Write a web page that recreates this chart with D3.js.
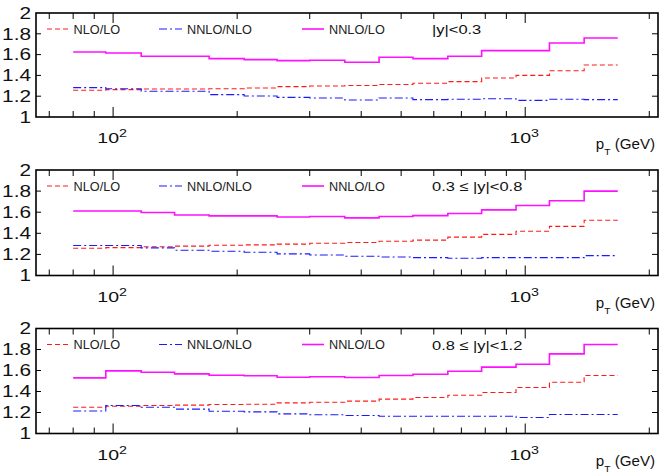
<!DOCTYPE html>
<html>
<head>
<meta charset="utf-8">
<script src="https://cdn.jsdelivr.net/npm/d3@7"></script>
<style>
  body { margin: 0; background: #fff; }
  svg { display: block; }
</style>
</head>
<body>
<div id="chart"></div>
<script>
// Step histograms of K-factors in three rapidity slices

// pT bin edges (GeV), shared by all panels
const binEdges = [80, 96, 117, 141, 171, 208, 250, 300, 365, 442, 534, 649, 784, 950, 1145, 1390, 1677];

const legendLabels = ['NLO/LO', 'NNLO/NLO', 'NNLO/LO'];
const regionLabels = ['|y|<0.3', '0.3 \u2264 |y|<0.8', '0.8 \u2264 |y|<1.2'];
const yTicks = [1, 1.2, 1.4, 1.6, 1.8, 2];
const yTickLabels = ['1', '1.2', '1.4', '1.6', '1.8', '2'];
const xLabelTicks = [100, 1000];
const xLabelExponents = ['2', '3'];

// |y| < 0.3
const nloLo1   = [1.257, 1.263, 1.269, 1.269, 1.272, 1.279, 1.292, 1.298, 1.303, 1.312, 1.325, 1.340, 1.375, 1.400, 1.445, 1.500];
const nnloNlo1 = [1.282, 1.272, 1.247, 1.247, 1.215, 1.202, 1.189, 1.183, 1.163, 1.183, 1.167, 1.170, 1.176, 1.160, 1.170, 1.167];
const nnloLo1  = [1.625, 1.615, 1.584, 1.584, 1.561, 1.552, 1.542, 1.545, 1.526, 1.574, 1.561, 1.584, 1.638, 1.638, 1.712, 1.760];

// 0.3 <= |y| < 0.8
const nloLo2   = [1.258, 1.264, 1.272, 1.278, 1.287, 1.290, 1.297, 1.306, 1.313, 1.325, 1.335, 1.364, 1.390, 1.420, 1.466, 1.523];
const nnloNlo2 = [1.284, 1.284, 1.262, 1.240, 1.230, 1.220, 1.205, 1.195, 1.182, 1.175, 1.169, 1.163, 1.169, 1.169, 1.169, 1.188];
const nnloLo2  = [1.612, 1.612, 1.597, 1.574, 1.565, 1.565, 1.555, 1.559, 1.546, 1.559, 1.568, 1.587, 1.622, 1.664, 1.708, 1.800];

// 0.8 <= |y| < 1.2
const nloLo3   = [1.250, 1.260, 1.267, 1.270, 1.276, 1.278, 1.292, 1.297, 1.308, 1.327, 1.343, 1.365, 1.390, 1.438, 1.488, 1.552];
const nnloNlo3 = [1.215, 1.267, 1.250, 1.232, 1.212, 1.206, 1.187, 1.178, 1.171, 1.165, 1.165, 1.165, 1.165, 1.152, 1.181, 1.181];
const nnloLo3  = [1.530, 1.596, 1.584, 1.568, 1.555, 1.550, 1.536, 1.540, 1.533, 1.552, 1.565, 1.593, 1.632, 1.660, 1.758, 1.848];

const panels = [
    { label: regionLabels[0], series: [nloLo1, nnloNlo1, nnloLo1] },
    { label: regionLabels[1], series: [nloLo2, nnloNlo2, nnloLo2] },
    { label: regionLabels[2], series: [nloLo3, nnloNlo3, nnloLo3] }
];

// Layout
const width = 659, height = 476;
const left = 36, right = 658;
const panelTops = [13, 170, 328.5];
const panelHeights = [104, 105.5, 105];
const fontFamily = '"Liberation Sans", Arial, Helvetica, sans-serif';
const seriesStyles = [
    { color: '#ff1a1a', dash: '5,3', width: 1.1 },
    { color: '#1a1aff', dash: '8,3,2,3', width: 1.1 },
    { color: '#ff10ff', dash: null, width: 1.6 }
];

const svg = d3.select('#chart')
    .append('svg')
    .attr('width', width)
    .attr('height', height)
    .style('font-family', fontFamily);

const x = d3.scaleLog().domain([65, 2100]).range([left, right]);

// all 1..9 x 10^n ticks inside the domain
const xTicks = [];
[10, 100, 1000].forEach(d => {
    for (let m = 1; m <= 9; m++) {
        const v = m * d;
        if (v > x.domain()[0] && v < x.domain()[1]) xTicks.push(v);
    }
});

panels.forEach((panel, i) => drawPanel(panel, panelTops[i], panelHeights[i]));

function drawPanel(panel, top, h) {
    const bottom = top + h;
    const y = d3.scaleLinear().domain([1, 2]).range([bottom, top]);
    const g = svg.append('g');

    // Histogram lines (step after, last edge closes the final bin)
    const line = d3.line()
        .x(d => x(d[0]))
        .y(d => y(d[1]))
        .curve(d3.curveStepAfter);

    panel.series.forEach((vals, k) => {
        const pts = vals.map((v, j) => [binEdges[j], v]);
        pts.push([binEdges[binEdges.length - 1], vals[vals.length - 1]]);
        const st = seriesStyles[k];
        g.append('path')
            .datum(pts)
            .attr('d', line)
            .attr('fill', 'none')
            .attr('stroke', st.color)
            .attr('stroke-width', st.width)
            .attr('stroke-dasharray', st.dash);
    });

    // Frame
    g.append('rect')
        .attr('x', left)
        .attr('y', top)
        .attr('width', right - left)
        .attr('height', h)
        .attr('fill', 'none')
        .attr('stroke', '#000')
        .attr('stroke-width', 1.6);

    // x ticks, bottom and top, pointing inward
    const tickLen = v => (xLabelTicks.includes(v) ? 10 : 6);
    g.selectAll('.xtb').data(xTicks).enter().append('line')
        .attr('x1', d => x(d)).attr('x2', d => x(d))
        .attr('y1', bottom).attr('y2', d => bottom - tickLen(d))
        .attr('stroke', '#000').attr('stroke-width', 1);
    g.selectAll('.xtt').data(xTicks).enter().append('line')
        .attr('x1', d => x(d)).attr('x2', d => x(d))
        .attr('y1', top).attr('y2', d => top + tickLen(d))
        .attr('stroke', '#000').attr('stroke-width', 1);

    // y ticks, left and right
    const inner = yTicks.slice(1, -1);
    g.selectAll('.ytl').data(inner).enter().append('line')
        .attr('x1', left).attr('x2', left + 5)
        .attr('y1', d => y(d)).attr('y2', d => y(d))
        .attr('stroke', '#000').attr('stroke-width', 1);
    g.selectAll('.ytr').data(inner).enter().append('line')
        .attr('x1', right).attr('x2', right - 6)
        .attr('y1', d => y(d)).attr('y2', d => y(d))
        .attr('stroke', '#000').attr('stroke-width', 1);

    // y labels (stretched like the original)
    yTicks.forEach((v, j) => {
        g.append('text')
            .attr('transform', `translate(31, ${y(v) + 5.8}) scale(1.3, 1)`)
            .attr('text-anchor', 'end')
            .attr('font-size', 16)
            .attr('fill', '#111')
            .text(yTickLabels[j]);
    });

    // x labels 10^2, 10^3
    xLabelTicks.forEach((v, j) => {
        const t = g.append('text')
            .attr('transform', `translate(${x(v) - 1}, ${bottom + 26}) scale(1.3, 1)`)
            .attr('text-anchor', 'middle')
            .attr('fill', '#111');
        t.append('tspan').attr('font-size', 15).text('10');
        t.append('tspan').attr('font-size', 11).attr('dy', -6).text(xLabelExponents[j]);
    });

    // axis title p_T (GeV)
    const at = g.append('text')
        .attr('transform', `translate(655, ${bottom + 32}) scale(1.08, 1)`)
        .attr('text-anchor', 'end')
        .attr('fill', '#111')
        .attr('font-size', 14);
    at.append('tspan').text('p');
    at.append('tspan').attr('font-size', 9.5).attr('dy', 6).text('T');
    at.append('tspan').attr('dy', -6).text(' (GeV)');

    // Legend
    const legendX = [[47, 69, 73.5], [159, 182, 187], [302, 324, 329]];
    legendLabels.forEach((lab, k) => {
        const st = seriesStyles[k];
        const ly = top + 16;
        g.append('line')
            .attr('x1', legendX[k][0]).attr('x2', legendX[k][1])
            .attr('y1', ly).attr('y2', ly)
            .attr('stroke', st.color)
            .attr('stroke-width', st.width)
            .attr('stroke-dasharray', st.dash);
        g.append('text')
            .attr('transform', `translate(${legendX[k][2]}, ${ly + 4.5}) scale(1.06, 1)`)
            .attr('font-size', 12)
            .attr('fill', '#222')
            .text(lab);
    });

    // Rapidity region label
    g.append('text')
        .attr('transform', `translate(432, ${top + 21}) scale(1.22, 1)`)
        .attr('font-size', 13.5)
        .attr('fill', '#111')
        .text(panel.label);
}
</script>
</body>
</html>
